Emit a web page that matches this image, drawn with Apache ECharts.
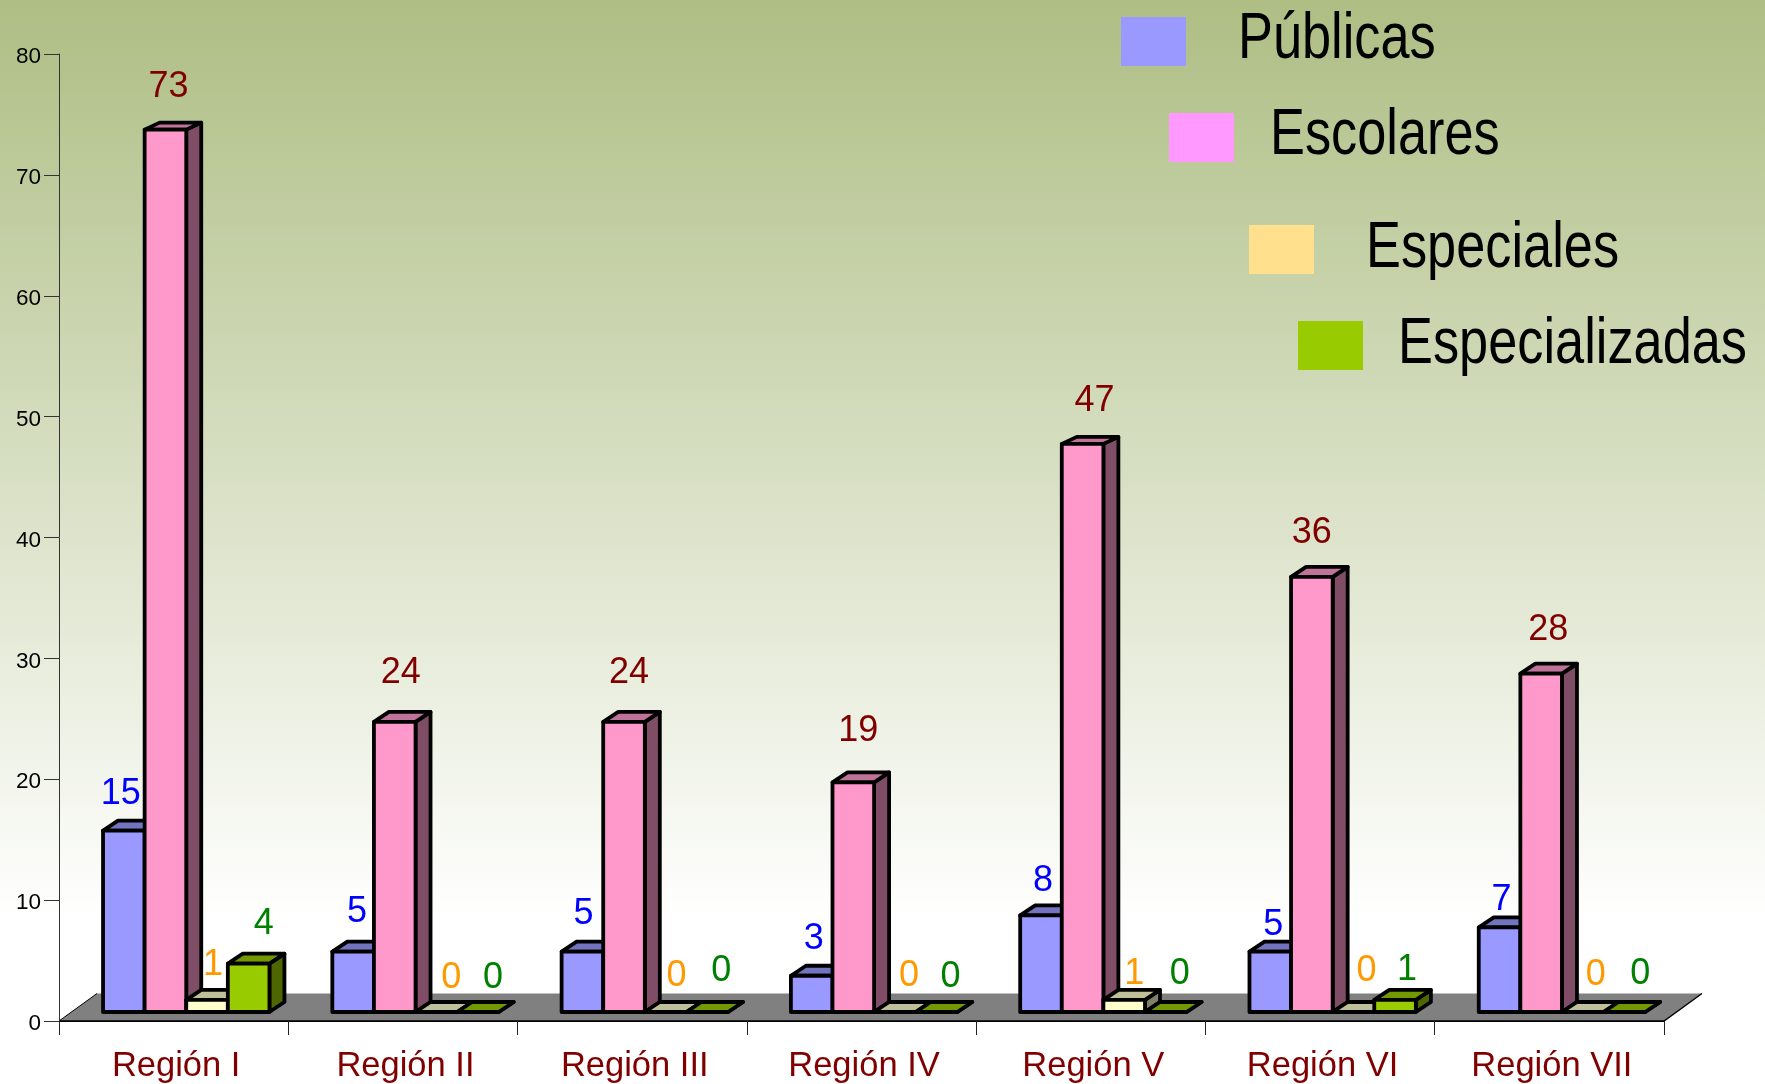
<!DOCTYPE html>
<html><head><meta charset="utf-8">
<style>html,body{margin:0;padding:0;background:#fff}#c{width:1765px;height:1084px}</style>
<script src="https://cdn.jsdelivr.net/npm/echarts@6/dist/echarts.min.js"></script>
</head><body><div id="c"></div>
<script>
const categories = ['Región I','Región II','Región III','Región IV','Región V','Región VI','Región VII'];
const seriesNames = ['Públicas','Escolares','Especiales','Especializadas'];
const publicas = [15,5,5,3,8,5,7];
const escolares = [73,24,24,19,47,36,28];
const especiales = [1,0,0,0,1,0,0];
const especializadas = [4,0,0,0,0,1,0];

// hand placement of the value labels relative to the default spot, [dx, dy] in px
const nudgePublicas = [[-4,0],[3,-2],[0,0],[1,0],[1,3],[2,11],[1,10]];
const nudgeEscolares = [[-2,1],[1,-2],[0,-2],[0,-4],[7,1],[-5,3],[2,4]];
const nudgeEspeciales = [[-8,2],[1,3],[-3,1],[0,1],[-4,11],[-1,-4],[-1,0]];
const nudgeEspecializadas = [[1,-1],[1,5],[0,-2],[0,4],[0,1],[-2,9],[2,1]];

const BAR_W = 41.6, BASE_UP = 9, GROUP_SHIFT = 12.6, DX = 15;
const DEPTH_X = 38, DEPTH_Y = 27.5;

function makeBar(idx, front, top, side, labelColor, lx, ly, nudge) {
  return function (params, api) {
    const i = api.value(0), v = api.value(1);
    const c0 = api.coord([i, 0]), c1 = api.coord([i, v]);
    const x = c0[0] + GROUP_SHIFT - 2 * BAR_W + idx * BAR_W;
    const yb = c0[1] - BASE_UP, yt = c1[1] - BASE_UP;
    const dy = v > 40 ? 7 : 10;
    const stroke = {stroke:'#000', lineWidth:3.8, lineJoin:'round'};
    const poly = (pts, fill) => ({type:'polygon', shape:{points:pts}, style:Object.assign({fill}, stroke)});
    return {type:'group', children:[
      poly([[x+BAR_W,yb],[x+BAR_W+DX,yb-dy],[x+BAR_W+DX,yt-dy],[x+BAR_W,yt]], side),
      poly([[x,yt],[x+DX,yt-dy],[x+BAR_W+DX,yt-dy],[x+BAR_W,yt]], top),
      poly([[x,yb],[x+BAR_W,yb],[x+BAR_W,yt],[x,yt]], front),
      {type:'text', z2:10, style:{text:String(v), x:x+BAR_W/2+lx+nudge[i][0], y:yt-dy+ly+nudge[i][1], fill:labelColor,
        font:'36px "Liberation Sans"', align:'center', verticalAlign:'middle'}}
    ]};
  };
}
function floorItem(params, api) {
  const c = params.coordSys;
  const l = c.x, r = c.x + c.width, b = c.y + c.height;
  return {type:'group', children:[
    {type:'polygon', shape:{points:[[l,b],[l+DEPTH_X,b-DEPTH_Y],[r+DEPTH_X,b-DEPTH_Y],[r,b]]}, style:{fill:'#808080'}},
    {type:'polyline', shape:{points:[[l,b],[r,b],[r+DEPTH_X,b-DEPTH_Y]]}, style:{fill:null,stroke:'#000',lineWidth:1.4}},
    {type:'line', shape:{x1:l,y1:b,x2:l+DEPTH_X,y2:b-DEPTH_Y}, style:{stroke:'#000',lineWidth:1}}
  ]};
}
const toData = a => a.map((v,i)=>[i,v]);
const barSeries = (name, arr, idx, front, top, side, lc, lx, ly, nudge) => ({
  type:'custom', name, data:toData(arr), encode:{x:0,y:1}, clip:false,
  itemStyle:{color:front}, renderItem:makeBar(idx,front,top,side,lc,lx,ly,nudge)
});
const legendAt = (name, color, left, top) => ({
  left, top, orient:'horizontal', selectedMode:false, padding:0,
  itemWidth:65, itemHeight:49, icon:'rect', formatter:()=>'',
  data:[{name, icon:'rect', itemStyle:{color, borderWidth:0}}],
  textStyle:{fontSize:1, color:'transparent'}
});
const legendText = (text, x, baseline) => ({
  type:'text', x, y:baseline-17, scaleX:0.805, scaleY:1, z:50,
  style:{text, font:'65px "Liberation Sans"', fill:'#000', align:'left', verticalAlign:'middle'}
});
const chart = echarts.init(document.getElementById('c'), null, {renderer:'canvas'});
chart.setOption({
  animation:false,
  backgroundColor:{type:'linear',x:0,y:0,x2:0,y2:1,colorStops:[
    {offset:0,color:'#AEBE84'},{offset:0.85,color:'#FFFFFF'},{offset:1,color:'#FFFFFF'}]},
  grid:{left:59,right:101,top:54,bottom:63,containLabel:false},
  legend:[
    legendAt(seriesNames[0],'#9999FF',1121,17),
    legendAt(seriesNames[1],'#FF99FF',1169,113),
    legendAt(seriesNames[2],'#FFE08C',1249,225),
    legendAt(seriesNames[3],'#99CC00',1298,321)
  ],
  graphic:[
    legendText(seriesNames[0],1238,57),
    legendText(seriesNames[1],1270,153),
    legendText(seriesNames[2],1366,266),
    legendText(seriesNames[3],1398,362)
  ],
  xAxis:{type:'category',data:categories,boundaryGap:true,z:1,
    axisLine:{show:true,lineStyle:{color:'#000',width:1}},
    axisTick:{show:true,length:14,alignWithLabel:false,lineStyle:{color:'#222',width:1}},
    axisLabel:{color:'#800000',fontFamily:'"Liberation Sans"',fontSize:34.5,margin:28,interval:0,padding:[0,0,0,5]}},
  yAxis:{type:'value',min:0,max:80,interval:10,z:1,
    splitLine:{show:false},
    axisLine:{show:true,lineStyle:{color:'#333',width:1}},
    axisTick:{show:true,length:15,lineStyle:{color:'#333',width:1}},
    axisLabel:{color:'#000',fontFamily:'"Liberation Sans"',fontSize:22.5,margin:18,verticalAlign:'top',lineHeight:22,padding:[-8,0,0,0]}},
  series:[
    {type:'custom',name:'floor',data:[[0,0]],encode:{x:0,y:1},clip:false,renderItem:floorItem,z:1},
    barSeries(seriesNames[0],publicas,0,'#9999FF','#7373BF','#4D4D80','#0000FF',1,-27,nudgePublicas),
    barSeries(seriesNames[1],escolares,1,'#FF99CC','#BF7399','#804D66','#800000',5,-37,nudgeEscolares),
    barSeries(seriesNames[2],especiales,2,'#FFFFCC','#BFBF99','#808066','#FF9900',14,-27,nudgeEspeciales),
    barSeries(seriesNames[3],especializadas,3,'#99CC00','#739900','#4D6600','#008000',14,-29,nudgeEspecializadas)
  ]
});
</script></body></html>
